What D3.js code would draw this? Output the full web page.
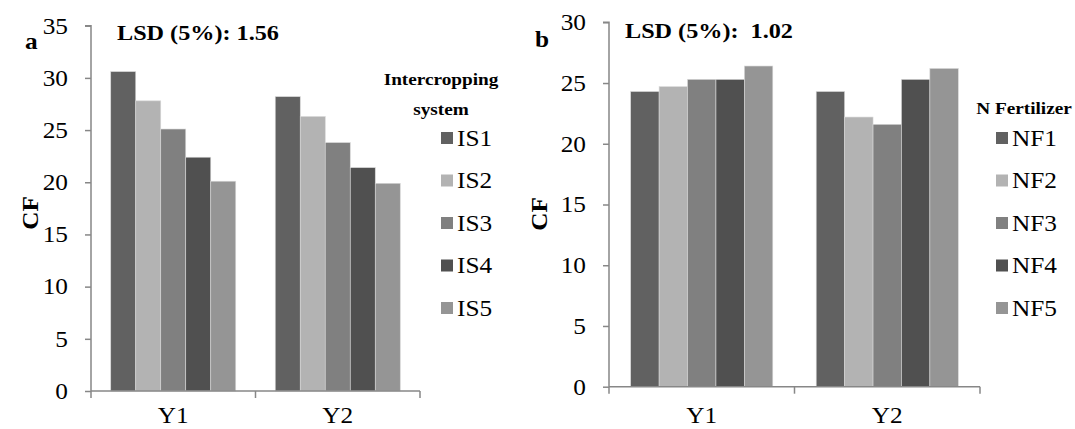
<!DOCTYPE html>
<html>
<head>
<meta charset="utf-8">
<script src="https://cdn.jsdelivr.net/npm/d3@7"></script>
<style>
html,body{margin:0;padding:0;background:#fff;}
text{font-family:"Liberation Serif","Times New Roman",serif;fill:#000;}
</style>
</head>
<body>
<svg id="chart" width="1075" height="429"></svg>
<script>
// ---- data ----
const years = ["Y1", "Y2"];
const isSeries = ["IS1", "IS2", "IS3", "IS4", "IS5"];
const isY1 = [30.6, 27.8, 25.1, 22.4, 20.1];
const isY2 = [28.2, 26.3, 23.8, 21.4, 19.9];
const nfSeries = ["NF1", "NF2", "NF3", "NF4", "NF5"];
const nfY1 = [24.3, 24.7, 25.3, 25.3, 26.4];
const nfY2 = [24.3, 22.2, 21.6, 25.3, 26.2];
const ticksA = [0, 5, 10, 15, 20, 25, 30, 35];
const ticksB = [0, 5, 10, 15, 20, 25, 30];
const colors = ["#616161", "#b3b3b3", "#808080", "#505050", "#959595"];

const svg = d3.select("#chart");
const SX = 1.1; // horizontal stretch of the original figure's text

function txt(g, x, y, s, opts) {
  opts = opts || {};
  const t = g.append("text")
    .attr("transform", `translate(${x},${y}) ${opts.rotate ? "rotate(" + opts.rotate + ")" : ""} scale(${SX},1)`)
    .attr("text-anchor", opts.anchor || "start")
    .attr("font-size", opts.size || 21)
    .attr("font-weight", opts.bold ? "bold" : "normal")
    .text(s);
  if (opts.dy) t.attr("dy", opts.dy);
  return t;
}

function panel(cfg) {
  const g = svg.append("g");
  const y = d3.scaleLinear().domain([0, cfg.max]).range([cfg.y0, cfg.y1]);
  const x = d3.scaleBand().domain(years).range([cfg.x0, cfg.x1]).padding(0);
  const bw = x.bandwidth();
  const pad = bw * cfg.padRatio;
  const xs = d3.scaleBand().domain(cfg.series).range([pad, bw - pad]).padding(0);
  const rows = [cfg.v1, cfg.v2];

  // bars
  years.forEach((yr, i) => {
    g.selectAll(null).data(cfg.series.map((s, j) => ({ s, v: rows[i][j], j })))
      .enter().append("rect")
      .attr("x", d => x(yr) + xs(d.s))
      .attr("width", xs.bandwidth())
      .attr("y", d => y(d.v))
      .attr("height", d => y(0) - y(d.v))
      .attr("fill", d => colors[d.j])
      .attr("stroke", "#d8d8d8")
      .attr("stroke-width", 0.6);
  });

  // y axis
  const ya = g.append("g").attr("transform", `translate(${cfg.x0},0)`)
    .call(d3.axisLeft(y).tickValues(cfg.ticks).tickSize(6).tickFormat(""));
  ya.select(".domain").attr("stroke", "#878787").attr("stroke-width", 1.5).attr("d", `M-6,${cfg.y1}H0V${cfg.y0}`);
  ya.selectAll(".tick line").attr("stroke", "#878787").attr("stroke-width", 1.5);
  cfg.ticks.forEach(t => txt(g, cfg.x0 - 23, y(t), String(t), { anchor: "end", size: 23, dy: "0.34em" }));

  // x axis
  const xa = g.append("g").attr("transform", `translate(0,${cfg.y0})`)
    .call(d3.axisBottom(x).tickSize(0).tickFormat(""));
  xa.select(".domain").attr("stroke", "#878787").attr("stroke-width", 1.5).attr("d", `M${cfg.x0},0H${cfg.x1}`);
  xa.selectAll(".tick").remove();
  [cfg.x0, cfg.x0 + bw, cfg.x1].forEach(px => {
    g.append("line").attr("x1", px).attr("x2", px).attr("y1", cfg.y0).attr("y2", cfg.y0 + 7)
      .attr("stroke", "#878787").attr("stroke-width", 1.5);
  });
  years.forEach(yr => txt(g, x(yr) + bw / 2, 423, yr, { anchor: "middle", size: 23 }));

  // axis title
  txt(g, cfg.cfX, cfg.cfY, "CF", { anchor: "middle", size: 23, bold: true, rotate: -90 });
  // panel letter
  txt(g, cfg.letterX, cfg.letterY, cfg.letter, { size: 23, bold: true });
  // LSD
  txt(g, cfg.lsdX, cfg.lsdY, cfg.lsd, { size: 22, bold: true }).attr("xml:space", "preserve").style("white-space", "pre");

  // legend
  cfg.legTitle.forEach((t, i) => txt(g, cfg.legTitleX, cfg.legTitleY[i], t, { anchor: "middle", size: 17.5, bold: true }));
  const ly = d3.scalePoint().domain(cfg.series).range([138, 308]);
  cfg.series.forEach((s, j) => {
    g.append("rect").attr("x", cfg.legX).attr("y", ly(s) - 6).attr("width", 12).attr("height", 12).attr("fill", colors[j]);
    txt(g, cfg.legX + 16, ly(s), s, { size: 23, dy: "0.34em" });
  });
}

panel({
  series: isSeries, v1: isY1, v2: isY2, max: 35, ticks: ticksA,
  x0: 91, x1: 420, y0: 391, y1: 25.7, padRatio: 0.12,
  cfX: 38, cfY: 213, letter: "a", letterX: 25, letterY: 49,
  lsd: "LSD (5%): 1.56", lsdX: 117, lsdY: 40,
  legTitle: ["Intercropping", "system"], legTitleX: 441, legTitleY: [85, 115], legX: 441
});
panel({
  series: nfSeries, v1: nfY1, v2: nfY2, max: 30, ticks: ticksB,
  x0: 609, x1: 980, y0: 386.7, y1: 22.3, padRatio: 0.117,
  cfX: 547, cfY: 214, letter: "b", letterX: 535, letterY: 47,
  lsd: "LSD (5%):  1.02", lsdX: 625, lsdY: 38,
  legTitle: ["N Fertilizer"], legTitleX: 1024, legTitleY: [114], legX: 996
});
</script>
</body>
</html>
